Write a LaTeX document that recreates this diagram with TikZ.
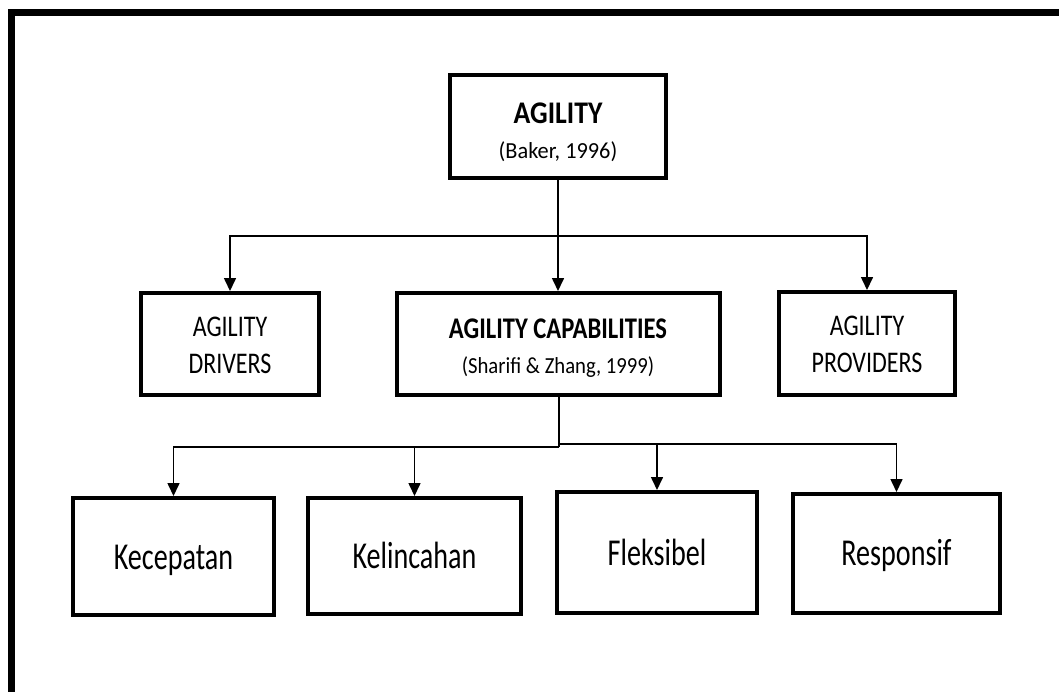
\documentclass[tikz,border=0pt]{standalone}
\usepackage{fontspec}
\usepackage{graphicx}
\setmainfont{Carlito}
\usetikzlibrary{arrows.meta}
% horizontally condensed text
\newcommand{\sqz}[2]{\scalebox{#1}[1]{#2}}
\begin{document}
\begin{tikzpicture}[x=1pt,y=-1pt,
  box/.style={draw,line width=4pt,rectangle,inner sep=0pt},
  txt/.style={anchor=base,inner sep=0pt},
  title/.style={txt,font=\fontsize{31.5}{31.5}\selectfont\bfseries},
  midtitle/.style={txt,font=\fontsize{30}{30}\selectfont\bfseries},
  sub/.style={txt,font=\fontsize{23}{23}\selectfont},
  mid/.style={txt,font=\fontsize{30}{30}\selectfont},
  low/.style={txt,font=\fontsize{38}{38}\selectfont},
  conn/.style={line width=1.6pt},
  arr/.style={conn,-{Triangle[length=13pt,width=12pt]}}]
\useasboundingbox (0,0) rectangle (1059,691);
% page frame (top and left edges)
\draw[line width=7pt,line join=miter] (11.5,695) -- (11.5,12.5) -- (1065,12.5);

% boxes
\node[box,minimum width=216pt,minimum height=103pt] (agility)   at (558,126.5) {};
\node[box,minimum width=178pt,minimum height=102pt] (drivers)   at (230,344)   {};
\node[box,minimum width=323pt,minimum height=102pt] (caps)      at (558,344)   {};
\node[box,minimum width=176pt,minimum height=103pt] (providers) at (867,343.5) {};
\node[box,minimum width=201pt,minimum height=117pt] (kec)  at (173.5,556.5) {};
\node[box,minimum width=213pt,minimum height=116pt] (kel)  at (414.5,556)   {};
\node[box,minimum width=200pt,minimum height=121pt] (flek) at (657,552.5)   {};
\node[box,minimum width=207pt,minimum height=119pt] (resp) at (896.5,553.5) {};

% labels
\node[title] (agilityT) at (558,123) {\sqz{0.88}{AGILITY}};
\node[sub]   (agilityS) at (558,158) {\sqz{0.97}{(Baker, 1996)}};
\node[mid] (driversA) at (230,336) {\sqz{0.8}{AGILITY}};
\node[mid] (driversB) at (230,373) {\sqz{0.8}{DRIVERS}};
\node[midtitle] (capsT) at (558,338) {\sqz{0.82}{AGILITY CAPABILITIES}};
\node[sub]      (capsS) at (558,373) {\sqz{0.9}{(Sharifi \& Zhang, 1999)}};
\node[mid] (providersA) at (867,335) {\sqz{0.8}{AGILITY}};
\node[mid] (providersB) at (867,372) {\sqz{0.8}{PROVIDERS}};
\node[low] (kecT)  at (173.5,569) {\sqz{0.74}{Kecepatan}};
\node[low] (kelT)  at (414.5,568) {\sqz{0.74}{Kelincahan}};
\node[low] (flekT) at (657,565)   {\sqz{0.74}{Fleksibel}};
\node[low] (respT) at (896.5,565) {\sqz{0.74}{Responsif}};

% junctions
\coordinate (j1) at (558,236);
\coordinate (j2) at (559,447);
\coordinate (j2r) at (559,444);

% connectors
\draw[conn] (agility.south) -- (j1);
\draw[arr] (j1) -| (drivers.north);
\draw[arr] (j1) -- (caps.north);
\draw[arr] (j1) -| (providers.north);

\draw[conn] (caps.south -| j2) -- (j2);
\draw[arr] (j2) -| (kec.north);
\draw[arr] (j2) -| (kel.north);
\draw[arr] (j2r) -| (flek.north);
\draw[arr] (j2r) -| (resp.north);
\end{tikzpicture}
\end{document}
